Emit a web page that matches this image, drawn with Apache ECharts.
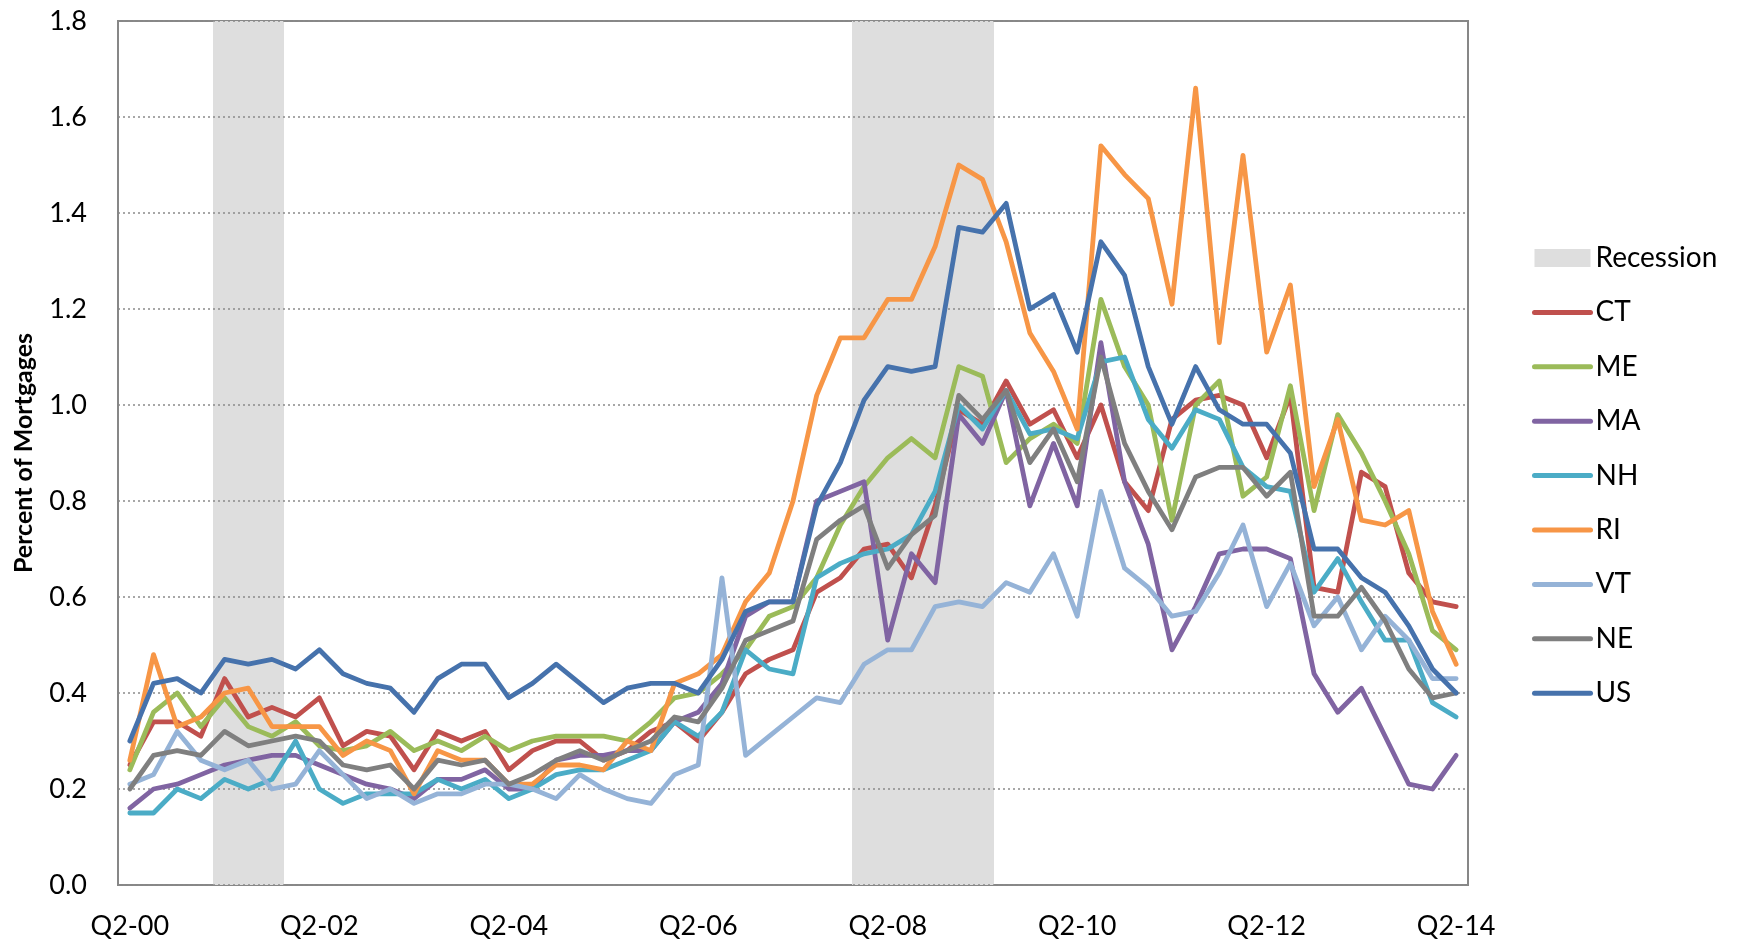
<!DOCTYPE html>
<html>
<head>
<meta charset="utf-8">
<script src="https://cdn.jsdelivr.net/npm/echarts@6/dist/echarts.min.js"></script>
<style>
html,body{margin:0;padding:0;background:#fff;}
#chart{width:1741px;height:942px;}
</style>
</head>
<body>
<div id="chart"></div>
<script>
const categories = ["Q2-00","Q3-00","Q4-00","Q1-01","Q2-01","Q3-01","Q4-01","Q1-02","Q2-02","Q3-02","Q4-02","Q1-03","Q2-03","Q3-03","Q4-03","Q1-04","Q2-04","Q3-04","Q4-04","Q1-05","Q2-05","Q3-05","Q4-05","Q1-06","Q2-06","Q3-06","Q4-06","Q1-07","Q2-07","Q3-07","Q4-07","Q1-08","Q2-08","Q3-08","Q4-08","Q1-09","Q2-09","Q3-09","Q4-09","Q1-10","Q2-10","Q3-10","Q4-10","Q1-11","Q2-11","Q3-11","Q4-11","Q1-12","Q2-12","Q3-12","Q4-12","Q1-13","Q2-13","Q3-13","Q4-13","Q1-14","Q2-14"];

// recession periods (first and last quarter, inclusive)
const recessionStart = ["Q2-01","Q1-08"];
const recessionEnd   = ["Q4-01","Q2-09"];

const CT = [0.25,0.34,0.34,0.31,0.43,0.35,0.37,0.35,0.39,0.29,0.32,0.31,0.24,0.32,0.30,0.32,0.24,0.28,0.30,0.30,0.26,0.28,0.32,0.34,0.30,0.36,0.44,0.47,0.49,0.61,0.64,0.70,0.71,0.64,0.79,0.99,0.96,1.05,0.96,0.99,0.89,1.00,0.84,0.78,0.97,1.01,1.02,1.00,0.89,1.02,0.62,0.61,0.86,0.83,0.65,0.59,0.58];
const ME = [0.24,0.36,0.40,0.33,0.39,0.33,0.31,0.34,0.29,0.28,0.29,0.32,0.28,0.30,0.28,0.31,0.28,0.30,0.31,0.31,0.31,0.30,0.34,0.39,0.40,0.44,0.49,0.56,0.58,0.64,0.75,0.83,0.89,0.93,0.89,1.08,1.06,0.88,0.93,0.96,0.92,1.22,1.08,1.00,0.76,1.00,1.05,0.81,0.85,1.04,0.78,0.98,0.90,0.80,0.69,0.53,0.49];
const MA = [0.16,0.20,0.21,0.23,0.25,0.26,0.27,0.27,0.25,0.23,0.21,0.20,0.18,0.22,0.22,0.24,0.20,0.20,0.26,0.27,0.27,0.28,0.28,0.34,0.36,0.42,0.56,0.59,0.59,0.80,0.82,0.84,0.51,0.69,0.63,0.98,0.92,1.03,0.79,0.92,0.79,1.13,0.84,0.71,0.49,0.58,0.69,0.70,0.70,0.68,0.44,0.36,0.41,0.31,0.21,0.20,0.27];
const NH = [0.15,0.15,0.20,0.18,0.22,0.20,0.22,0.30,0.20,0.17,0.19,0.19,0.19,0.22,0.20,0.22,0.18,0.20,0.23,0.24,0.24,0.26,0.28,0.34,0.31,0.36,0.49,0.45,0.44,0.64,0.67,0.69,0.70,0.73,0.82,1.00,0.95,1.03,0.94,0.95,0.93,1.09,1.10,0.97,0.91,0.99,0.97,0.87,0.83,0.82,0.61,0.68,0.59,0.51,0.51,0.38,0.35];
const RI = [0.26,0.48,0.33,0.35,0.40,0.41,0.33,0.33,0.33,0.27,0.30,0.28,0.19,0.28,0.26,0.26,0.21,0.21,0.25,0.25,0.24,0.30,0.28,0.42,0.44,0.48,0.59,0.65,0.80,1.02,1.14,1.14,1.22,1.22,1.33,1.50,1.47,1.34,1.15,1.07,0.95,1.54,1.48,1.43,1.21,1.66,1.13,1.52,1.11,1.25,0.83,0.97,0.76,0.75,0.78,0.57,0.46];
const VT = [0.21,0.23,0.32,0.26,0.24,0.26,0.20,0.21,0.28,0.23,0.18,0.20,0.17,0.19,0.19,0.21,0.21,0.20,0.18,0.23,0.20,0.18,0.17,0.23,0.25,0.64,0.27,0.31,0.35,0.39,0.38,0.46,0.49,0.49,0.58,0.59,0.58,0.63,0.61,0.69,0.56,0.82,0.66,0.62,0.56,0.57,0.65,0.75,0.58,0.67,0.54,0.60,0.49,0.56,0.51,0.43,0.43];
const NE = [0.20,0.27,0.28,0.27,0.32,0.29,0.30,0.31,0.30,0.25,0.24,0.25,0.20,0.26,0.25,0.26,0.21,0.23,0.26,0.28,0.26,0.28,0.30,0.35,0.34,0.41,0.51,0.53,0.55,0.72,0.76,0.79,0.66,0.73,0.77,1.02,0.97,1.03,0.88,0.95,0.84,1.10,0.92,0.82,0.74,0.85,0.87,0.87,0.81,0.86,0.56,0.56,0.62,0.55,0.45,0.39,0.40];
const US = [0.30,0.42,0.43,0.40,0.47,0.46,0.47,0.45,0.49,0.44,0.42,0.41,0.36,0.43,0.46,0.46,0.39,0.42,0.46,0.42,0.38,0.41,0.42,0.42,0.40,0.47,0.57,0.59,0.59,0.79,0.88,1.01,1.08,1.07,1.08,1.37,1.36,1.42,1.20,1.23,1.11,1.34,1.27,1.08,0.96,1.08,0.99,0.96,0.96,0.90,0.70,0.70,0.64,0.61,0.54,0.45,0.40];

const yMax = 1.8;
const lineSeries = [
  {name:'CT', data:CT, color:'#C0504D'},
  {name:'ME', data:ME, color:'#9BBB59'},
  {name:'MA', data:MA, color:'#8064A2'},
  {name:'NH', data:NH, color:'#4BACC6'},
  {name:'RI', data:RI, color:'#F79646'},
  {name:'VT', data:VT, color:'#95B3D7'},
  {name:'NE', data:NE, color:'#7F7F7F'},
  {name:'US', data:US, color:'#4672AC'}
];

const FONT = 'Lato';
const chart = echarts.init(document.getElementById('chart'), null, {renderer:'canvas'});

const recessionData = recessionStart.map((s, k) => [categories.indexOf(s), categories.indexOf(recessionEnd[k])]);

const series = [{
  name:'Recession',
  type:'custom',
  data: recessionData,
  encode:{x:[0,1]},
  itemStyle:{color:'#DEDEDE'},
  z:1,
  silent:true,
  renderItem: function(params, api) {
    const a = api.coord([api.value(0), 0]);
    const b = api.coord([api.value(1), yMax]);
    const w = api.size([1, 0])[0];
    const x0 = Math.round(a[0] - w / 2);
    const x1 = Math.round(b[0] + w / 2);
    return {
      type:'rect',
      shape:{x:x0, y:b[1], width:x1 - x0, height:a[1] - b[1]},
      style:{fill:'#DEDEDE'}
    };
  }
}].concat(lineSeries.map(s => ({
  name:s.name,
  type:'line',
  data:s.data,
  symbol:'none',
  lineStyle:{color:s.color, width:4.8, join:'round', cap:'round'},
  itemStyle:{color:s.color},
  z:5
})));

chart.setOption({
  animation:false,
  backgroundColor:'#ffffff',
  textStyle:{fontFamily:FONT},
  grid:{left:118, right:273, top:21, bottom:57, show:true, borderColor:'#878787', borderWidth:2, backgroundColor:'transparent'},
  legend:{
    orient:'vertical',
    left:1527,
    top:239,
    itemGap:26.4,
    itemWidth:56,
    itemHeight:18,
    itemStyle:{opacity:0},
    lineStyle:{width:5, cap:'round'},
    textStyle:{fontFamily:FONT, fontSize:28, color:'#000'},
    data:[
      {name:'Recession', icon:'rect', itemStyle:{opacity:1, color:'#DEDEDE'}},
      'CT','ME','MA','NH','RI','VT','NE','US'
    ]
  },
  xAxis:{
    type:'category',
    data:categories,
    boundaryGap:true,
    axisLine:{lineStyle:{color:'#878787', width:2}},
    axisTick:{show:false},
    axisLabel:{interval:7, fontFamily:FONT, fontSize:27, color:'#000', margin:28},
    splitLine:{show:false}
  },
  yAxis:{
    type:'value',
    min:0,
    max:yMax,
    interval:0.2,
    z:3,
    name:'Percent of Mortgages',
    nameLocation:'middle',
    nameGap:82,
    nameTextStyle:{fontFamily:FONT, fontSize:25, fontWeight:'bold', color:'#000'},
    axisLine:{show:true, lineStyle:{color:'#878787', width:2}},
    axisTick:{show:false},
    axisLabel:{fontFamily:FONT, fontSize:27, color:'#000', margin:31, formatter:v => v.toFixed(1)},
    splitLine:{show:true, lineStyle:{color:'#8a8a8a', width:1.5, type:[2,3]}}
  },
  series:series
});
</script>
</body>
</html>
